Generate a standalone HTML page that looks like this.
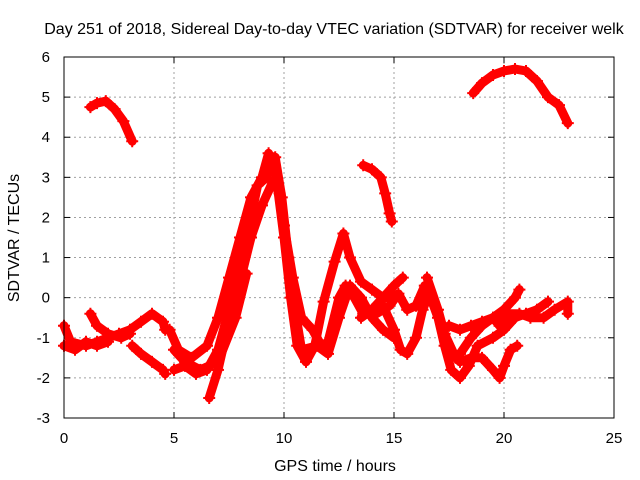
<!DOCTYPE html>
<html><head><meta charset="utf-8"><style>
body{margin:0;background:#fff}
svg{display:block;font-family:"Liberation Sans",sans-serif;font-size:15px}
.big{font-size:16px}
</style></head><body>
<svg id="chart" width="640" height="480">
<text class="big" x="334" y="34" text-anchor="middle">Day 251 of 2018, Sidereal Day-to-day VTEC variation (SDTVAR) for receiver welk</text>
<text class="big" x="335" y="471" text-anchor="middle">GPS time / hours</text>
<text class="big" transform="translate(19,238) rotate(-90)" text-anchor="middle">SDTVAR / TECUs</text>
<g id="grid"></g>
<g id="ticks"></g>
<g id="series"></g>
<rect x="64" y="57" width="550" height="361" fill="none" stroke="#000" stroke-width="1"/>
</svg>
<script>
const xTicks=[0,5,10,15,20,25];
const yTicks=[-3,-2,-1,0,1,2,3,4,5,6];
const trackA=[[0,-0.7],[0.3,-1.1],[1,-1.2],[1.5,-1.1],[2,-1.0],[2.5,-0.9],[3,-0.8],[3.5,-0.6],[4,-0.4],[4.5,-0.6],[4.6,-0.8]];
const trackA2=[[0,-1.2],[0.5,-1.3],[1,-1.1],[1.5,-1.2],[2,-1.1]];
const trackB=[[1.2,-0.4],[1.5,-0.7],[2,-0.9],[2.6,-1.0],[3,-0.9]];
const trackC=[[1.2,4.75],[1.5,4.85],[1.9,4.9],[2.3,4.7],[2.7,4.4],[3.1,3.9]];
const trackD=[[3.1,-1.2],[3.5,-1.4],[4,-1.6],[4.5,-1.8],[4.6,-1.9]];
const trackE=[[18.6,5.1],[19,5.35],[19.5,5.55],[20,5.65],[20.5,5.7],[21,5.65],[21.5,5.4],[22,5.0],[22.5,4.8],[22.9,4.35]];
const trackF=[[13.6,3.3],[14,3.2],[14.4,3.0],[14.6,2.6],[14.8,2.1],[14.9,1.9]];
const trackG=[[4.8,-0.8],[5.2,-1.3],[5.8,-1.5],[6.5,-1.2],[7,-0.5],[7.5,0.5],[8,1.5],[8.5,2.5],[9,3.0],[9.3,3.6],[9.6,3.2],[10,1.5],[10.3,0],[10.6,-1.2],[11,-1.6],[11.4,-1.2],[11.8,-0.1],[12.3,0.9],[12.7,1.6],[13,1.0],[13.5,0.4],[14,0.2],[14.5,0.0],[15,0.0]];
const trackH=[[5,-1.8],[5.5,-1.7],[6,-1.9],[6.5,-1.8],[7,-1.3],[7.5,-0.3],[8,1.0],[8.5,2.0],[8.8,2.8],[9.2,3.0],[9.6,3.5],[9.9,2.5],[10.2,1.0],[10.5,-0.3],[10.8,-1.3],[11.5,-1.2],[12,-1.4],[12.5,-0.5],[13,0.3],[13.5,0.0],[14,-0.5],[14.5,-0.8],[15,-1.0]];
const trackI=[[6.6,-2.5],[7,-1.8],[7.5,-0.6],[8,0.4],[8.5,1.5],[9,2.3],[9.5,2.9],[9.8,2.6],[10,1.8],[10.4,0.5],[10.8,-0.5],[11.3,-0.8],[11.7,-1.2],[12,-1.1],[12.5,0.0],[12.8,0.3],[13.2,0.0],[13.6,-0.4]];
const trackJ=[[5,-1.3],[5.5,-1.6],[6.2,-1.8],[7,-1.6],[7.8,-0.5],[8.3,0.6]];
const trackK=[[14.5,-0.2],[15,-0.8],[15.3,-1.3],[15.6,-1.4],[16,-1.0],[16.3,-0.3],[16.6,0.1],[17,-0.5],[17.3,-1.2],[17.6,-1.8],[18,-2.0],[18.4,-1.7],[18.8,-1.2],[19.5,-1.0],[20,-0.8],[20.5,-0.5],[21,-0.4],[21.5,-0.3],[22,-0.1]];
const trackL=[[16.5,0.5],[17,-0.3],[17.3,-0.9],[17.8,-1.5],[18,-1.4],[18.5,-1.0],[19,-0.7],[19.5,-0.5],[20,-0.3],[20.5,0.0],[20.7,0.2]];
const trackM=[[17.5,-0.7],[18,-0.8],[18.5,-0.7],[19,-0.6],[19.5,-0.5],[19.8,-0.7],[20.2,-0.4],[20.7,-0.4],[21.2,-0.5],[21.8,-0.5],[22.3,-0.3],[22.9,-0.1],[22.9,-0.4]];
const trackN=[[18,-1.6],[18.5,-1.5],[19,-1.5],[19.5,-1.8],[19.8,-2.0],[20,-1.7],[20.3,-1.3],[20.6,-1.2]];
const trackO=[[13.5,-0.5],[14,-0.3],[14.5,0.0],[15,0.3],[15.4,0.5]];
const trackP=[[14.2,-0.4],[14.8,-0.2],[15.2,0.1],[15.6,-0.3],[16,-0.2],[16.4,0.3]];
const tracks=[trackA,trackA2,trackB,trackC,trackD,trackE,trackF,trackG,trackH,trackI,trackJ,trackK,trackL,trackM,trackN,trackO,trackP];
const NS='http://www.w3.org/2000/svg';
function xs(t){return 64+(t-0)/25*550;}
function ys(v){return 418-(v+3)/9*361;}
function mk(tag,attrs,parent){const e=document.createElementNS(NS,tag);for(const k in attrs)e.setAttribute(k,attrs[k]);parent.appendChild(e);return e;}
const grid=document.getElementById('grid'),ticks=document.getElementById('ticks'),ser=document.getElementById('series');
xTicks.forEach(t=>{const x=xs(t);
 if(t>0&&t<25){const g=mk('line',{x1:x,x2:x,y1:57,y2:418,stroke:'#a0a0a0','stroke-dasharray':'2,3'},grid);
 
 }
 mk('line',{x1:x,x2:x,y1:418,y2:412,stroke:'#000'},ticks);mk('line',{x1:x,x2:x,y1:57,y2:63,stroke:'#000'},ticks);
 const l=mk('text',{x:x,y:443,'text-anchor':'middle'},ticks);l.textContent=t;
 
 });
yTicks.forEach(v=>{const y=ys(v);
 if(v>-3&&v<6){const g=mk('line',{x1:64,x2:614,y1:y,y2:y,stroke:'#a0a0a0','stroke-dasharray':'2,3'},grid);
 
 }
 mk('line',{x1:64,x2:70,y1:y,y2:y,stroke:'#000'},ticks);mk('line',{x1:614,x2:608,y1:y,y2:y,stroke:'#000'},ticks);
 const l=mk('text',{x:50,y:y+5,'text-anchor':'end'},ticks);l.textContent=v;
 
 });
tracks.forEach(tr=>{
 const d=tr.map((p,i)=>(i?'L':'M')+xs(p[0]).toFixed(1)+','+ys(p[1]).toFixed(1)).join('');
 const pl=mk('path',{d:d,fill:'none',stroke:'#ff0000','stroke-width':9,'stroke-linejoin':'round','stroke-linecap':'round'},ser);
 
 
 tr.forEach(p=>{const x=xs(p[0]),y=ys(p[1]);
  const m=mk('path',{d:`M${x-6},${y}H${x+6}M${x},${y-6}V${y+6}`,stroke:'#ff0000','stroke-width':2},ser);
  
  });
});
</script>
</body></html>
